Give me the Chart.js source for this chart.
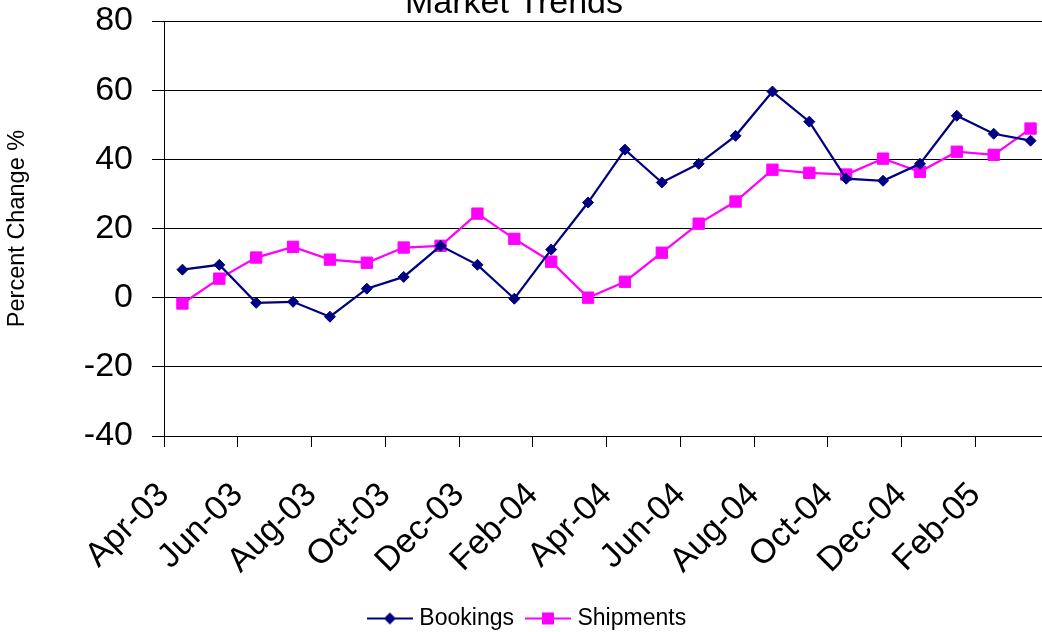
<!DOCTYPE html>
<html>
<head>
<meta charset="utf-8">
<script src="https://cdn.jsdelivr.net/npm/chart.js@4.4.1/dist/chart.umd.min.js"></script>
<style>
  html, body { margin: 0; padding: 0; background: #fff; overflow: hidden; }
  #wrap { position: absolute; left: 0; top: 0; width: 1058px; height: 640px; }
</style>
</head>
<body>
<div id="wrap"><canvas id="trendChart" width="1058" height="640"></canvas></div>
<script>
// Monthly categories, Apr-03 .. Mar-05
const months = ['Apr-03', 'May-03', 'Jun-03', 'Jul-03', 'Aug-03', 'Sep-03', 'Oct-03', 'Nov-03',
    'Dec-03', 'Jan-04', 'Feb-04', 'Mar-04', 'Apr-04', 'May-04', 'Jun-04', 'Jul-04',
    'Aug-04', 'Sep-04', 'Oct-04', 'Nov-04', 'Dec-04', 'Jan-05', 'Feb-05', 'Mar-05'];

// Percent change by month
const bookings = [8.1, 9.5, -1.5, -1.2, -5.5, 2.6, 6.0, 15.0, 9.5, -0.3, 13.9, 27.5,
    42.8, 33.3, 38.7, 46.8, 59.6, 50.9, 34.4, 33.8, 38.7, 52.6, 47.4, 45.4];
const shipments = [-1.7, 5.5, 11.6, 14.7, 11.0, 10.1, 14.5, 15.0, 24.3, 17.0, 10.4, 0.0,
    4.6, 13.0, 21.4, 27.8, 37.0, 36.1, 35.6, 40.2, 36.4, 42.2, 41.3, 48.9];

const yTicks = [-40, -20, 0, 20, 40, 60, 80];

const NAVY = '#000080';
const MAGENTA = '#FF00FF';
const FONT = 'Liberation Sans, Arial, Helvetica, sans-serif';

// points sit in the middle of each month slot
function toPoints(values) {
    return values.map((v, i) => ({ x: i + 0.5, y: v }));
}

// legend swatch: short line with the series marker on it
function legendSwatch(color, shape) {
    const c = document.createElement('canvas');
    c.width = 46;
    c.height = 16;
    const g = c.getContext('2d');
    g.strokeStyle = color;
    g.lineWidth = 2;
    g.beginPath();
    g.moveTo(0, 8);
    g.lineTo(46, 8);
    g.stroke();
    g.fillStyle = color;
    g.beginPath();
    if (shape === 'diamond') {
        g.moveTo(23, 2); g.lineTo(29, 8); g.lineTo(23, 14); g.lineTo(17, 8);
    } else {
        g.rect(17, 2, 12, 12);
    }
    g.closePath();
    g.fill();
    return c;
}

const swatches = [legendSwatch(NAVY, 'diamond'), legendSwatch(MAGENTA, 'square')];

// title sits partly above the top edge
const titlePlugin = {
    id: 'topTitle',
    afterDraw(chart) {
        const ctx = chart.ctx;
        ctx.save();
        ctx.fillStyle = '#000';
        ctx.font = '34px ' + FONT;
        ctx.textAlign = 'center';
        ctx.textBaseline = 'alphabetic';
        ctx.fillText('Market Trends', 514, 13);
        ctx.restore();
    }
};

const ctx = document.getElementById('trendChart').getContext('2d');
new Chart(ctx, {
    type: 'line',
    data: {
        datasets: [{
            label: 'Bookings',
            data: toPoints(bookings),
            borderColor: NAVY,
            backgroundColor: NAVY,
            borderWidth: 2.25,
            pointStyle: 'rectRot',
            pointRadius: 5.5,
            pointBorderWidth: 1,
            pointBackgroundColor: NAVY,
            pointBorderColor: NAVY,
            tension: 0,
            fill: false
        }, {
            label: 'Shipments',
            data: toPoints(shipments),
            borderColor: MAGENTA,
            backgroundColor: MAGENTA,
            borderWidth: 2.25,
            pointStyle: 'rect',
            pointRadius: 8,
            pointBorderWidth: 1,
            pointBackgroundColor: MAGENTA,
            pointBorderColor: MAGENTA,
            tension: 0,
            fill: false
        }]
    },
    options: {
        responsive: false,
        animation: false,
        layout: { padding: { top: 21, right: 0, left: 0, bottom: 0 } },
        plugins: {
            title: { display: false },
            tooltip: { enabled: false },
            legend: {
                position: 'bottom',
                labels: {
                    usePointStyle: true,
                    pointStyleWidth: 36,
                    padding: 16,
                    color: '#000',
                    font: { family: FONT, size: 23 },
                    generateLabels(chart) {
                        return chart.data.datasets.map((ds, i) => ({
                            text: ds.label,
                            pointStyle: swatches[i],
                            fillStyle: ds.borderColor,
                            strokeStyle: ds.borderColor,
                            lineWidth: 0,
                            hidden: false,
                            datasetIndex: i
                        }));
                    }
                }
            }
        },
        scales: {
            x: {
                type: 'linear',
                min: 0,
                max: 24,
                afterFit(scale) {
                    scale.height = 155;
                    scale.paddingLeft = 0;
                    scale.paddingRight = 0;
                },
                border: { display: true, color: '#000', width: 1 },
                grid: {
                    drawOnChartArea: false,
                    drawTicks: true,
                    tickLength: 11,
                    color: '#000'
                },
                ticks: {
                    stepSize: 2,
                    autoSkip: false,
                    maxRotation: 45,
                    minRotation: 45,
                    padding: 28,
                    color: '#000',
                    font: { family: FONT, size: 34 },
                    callback: (value) => months[value] || ''
                }
            },
            y: {
                min: -40,
                max: 80,
                afterFit(scale) {
                    scale.width = 164;
                    scale.paddingTop = 0;
                    scale.paddingBottom = 0;
                },
                afterBuildTicks(scale) { scale.ticks = yTicks.map(v => ({ value: v })); },
                border: { display: true, color: '#000', width: 1 },
                grid: {
                    color: '#000',
                    lineWidth: 1,
                    tickLength: 12
                },
                ticks: {
                    padding: 19,
                    color: '#000',
                    font: { family: FONT, size: 34 }
                },
                title: {
                    display: true,
                    text: 'Percent Change %',
                    color: '#000',
                    padding: 3,
                    font: { family: FONT, size: 23.5 }
                }
            }
        }
    },
    plugins: [titlePlugin]
});
</script>
</body>
</html>
